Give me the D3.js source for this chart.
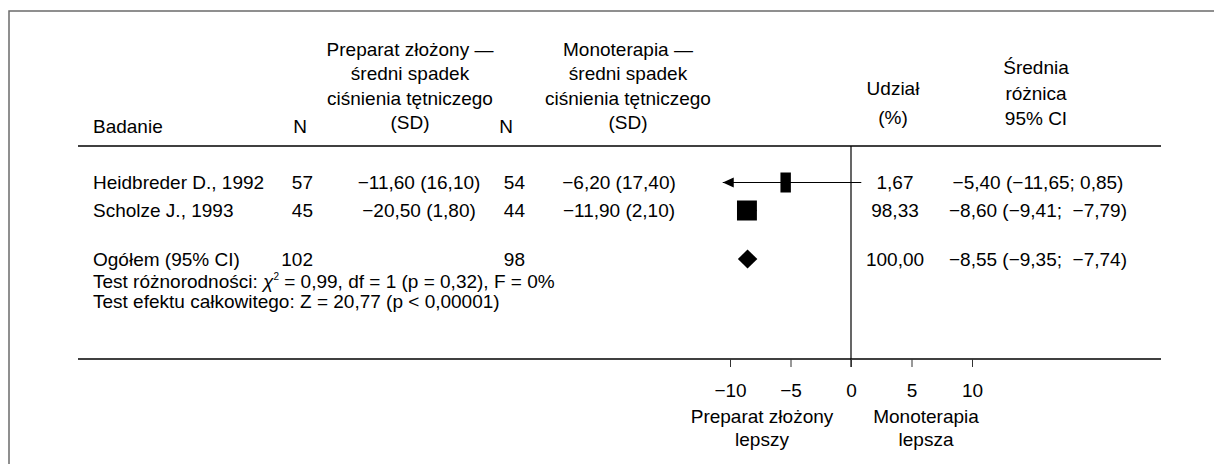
<!DOCTYPE html>
<html>
<head>
<meta charset="utf-8">
<script src="https://cdn.jsdelivr.net/npm/d3@7"></script>
<style>
  body { margin: 0; background: #fff; }
  svg text {
    font-family: "Liberation Sans", Arial, sans-serif;
    font-size: 19px;
    fill: #000;
    white-space: pre;
  }
</style>
</head>
<body>
<div id="chart"></div>
<script>

// data
const studies = ["Heidbreder D., 1992", "Scholze J., 1993"]
const comboN = [57, 45]
const comboMean = [-11.60, -20.50]
const comboSD = [16.10, 1.80]
const monoN = [54, 44]
const monoMean = [-6.20, -11.90]
const monoSD = [17.40, 2.10]
const weights = [1.67, 98.33]
const meanDiff = [-5.40, -8.60]
const ciLow = [-11.65, -9.41]
const ciHigh = [0.85, -7.79]

const totalLabel = "Ogółem (95% CI)"
const totalN = [102, 98]
const totalWeight = 100
const totalDiff = -8.55
const totalLow = -9.35
const totalHigh = -7.74

const xTicks = [-10, -5, 0, 5, 10]
const xLimit = -10.6   // left edge of the plot, CI past it gets an arrow

const headCombo = ["Preparat złożony —", "średni spadek", "ciśnienia tętniczego", "(SD)"]
const headMono = ["Monoterapia —", "średni spadek", "ciśnienia tętniczego", "(SD)"]
const headWeight = ["Udział", "(%)"]
const headDiff = ["Średnia", "różnica", "95% CI"]
const leftLabel = ["Preparat złożony", "lepszy"]
const rightLabel = ["Monoterapia", "lepsza"]

const width = 1214
const height = 464

// column positions
const colStudy = 93
const colN1 = 313
const colCombo = 419
const colN2 = 525
const colMono = 619
const colWeight = 895
const colDiff = 1038

const ruleLeft = 78
const ruleRight = 1161
const headRule = 146
const bottomRule = 359

const locale = d3.formatLocale({decimal: ",", thousands: " ", grouping: [3], currency: ["", " zł"], minus: "\u2212"})
const f2 = locale.format(".2f")

const x = d3.scaleLinear().domain([-10, 10]).range([730, 972])
const rowY = d3.scalePoint().domain(studies).range([189, 217])
const boxW = d3.scaleSqrt().domain([0, 100]).range([9, 20])

const svg = d3.select("#chart").append("svg")
  .attr("width", width)
  .attr("height", height)

// frame
svg.append("path")
  .attr("d", `M${width},11H9V${height}`)
  .attr("fill", "none")
  .attr("stroke", "#6b6b6b")
  .attr("stroke-width", 1.5)

// headers
function stack(lines, cx, lastBase, pitch, anchor) {
  svg.append("g").selectAll("text")
    .data(lines)
    .join("text")
    .attr("x", cx)
    .attr("y", (d, i) => lastBase - (lines.length - 1 - i) * pitch)
    .attr("text-anchor", anchor || "middle")
    .text(d => d)
}
stack(["Badanie"], colStudy, 133, 25, "start")
stack(["N"], 300, 133, 25)
stack(["N"], 506, 133, 25)
stack(headCombo, 410, 129, 24.5)
stack(headMono, 628, 129, 24.5)
stack(headWeight, 893, 124, 29)
stack(headDiff, 1036, 125, 25.5)

// rules
svg.append("g").selectAll("line")
  .data([headRule, bottomRule])
  .join("line")
  .attr("x1", ruleLeft).attr("x2", ruleRight)
  .attr("y1", d => d).attr("y2", d => d)
  .attr("stroke", "#000")
  .attr("stroke-width", 1.5)

// zero line
svg.append("line")
  .attr("x1", x(0)).attr("x2", x(0))
  .attr("y1", headRule).attr("y2", bottomRule + 8)
  .attr("stroke", "#000")
  .attr("stroke-width", 1.2)

// study rows
const rows = svg.append("g").selectAll("g")
  .data(studies)
  .join("g")
  .attr("transform", d => `translate(0,${rowY(d)})`)

rows.append("text").attr("x", colStudy).text(d => d)
rows.append("text").attr("x", colN1).attr("text-anchor", "end").text((d, i) => comboN[i])
rows.append("text").attr("x", colCombo).attr("text-anchor", "middle")
  .text((d, i) => `${f2(comboMean[i])} (${f2(comboSD[i])})`)
rows.append("text").attr("x", colN2).attr("text-anchor", "end").text((d, i) => monoN[i])
rows.append("text").attr("x", colMono).attr("text-anchor", "middle")
  .text((d, i) => `${f2(monoMean[i])} (${f2(monoSD[i])})`)
rows.append("text").attr("x", colWeight).attr("text-anchor", "middle").text((d, i) => f2(weights[i]))
rows.append("text").attr("x", colDiff).attr("text-anchor", "middle")
  .text((d, i) => `${f2(meanDiff[i])} (${f2(ciLow[i])};${ciHigh[i] < 0 ? "  " : " "}${f2(ciHigh[i])})`)

// confidence intervals and boxes
const cy = -6.5
rows.append("line")
  .attr("x1", (d, i) => x(Math.max(ciLow[i], xLimit)))
  .attr("x2", (d, i) => x(ciHigh[i]))
  .attr("y1", cy).attr("y2", cy)
  .attr("stroke", "#000")
  .attr("stroke-width", 1.2)

rows.filter((d, i) => ciLow[i] < xLimit)
  .append("path")
  .attr("d", `M${x(xLimit)},${cy}l11,-5v10z`)
  .attr("fill", "#000")

rows.append("rect")
  .attr("x", (d, i) => x(meanDiff[i]) - boxW(weights[i]) / 2)
  .attr("y", cy - 10)
  .attr("width", (d, i) => boxW(weights[i]))
  .attr("height", 20)
  .attr("fill", "#000")

// total row
const totalBase = 266
svg.append("text").attr("x", colStudy).attr("y", totalBase).text(totalLabel)
svg.append("text").attr("x", colN1).attr("y", totalBase).attr("text-anchor", "end").text(totalN[0])
svg.append("text").attr("x", colN2).attr("y", totalBase).attr("text-anchor", "end").text(totalN[1])
svg.append("text").attr("x", colWeight).attr("y", totalBase).attr("text-anchor", "middle").text(f2(totalWeight))
svg.append("text").attr("x", colDiff).attr("y", totalBase).attr("text-anchor", "middle")
  .text(`${f2(totalDiff)} (${f2(totalLow)};  ${f2(totalHigh)})`)

const dy = totalBase - 7
svg.append("path")
  .attr("d", `M${x(totalLow)},${dy}L${x(totalDiff)},${dy - 9.5}L${x(totalHigh)},${dy}L${x(totalDiff)},${dy + 9.5}Z`)
  .attr("fill", "#000")

// test lines
const het = svg.append("text").attr("x", colStudy).attr("y", 288)
het.append("tspan").text("Test różnorodności: ")
het.append("tspan").attr("font-style", "italic").text("χ")
het.append("tspan").attr("dy", -8).style("font-size", "10px").text("2")
het.append("tspan").attr("dy", 8).text(" = 0,99, df = 1 (p = 0,32), F = 0%")

svg.append("text").attr("x", colStudy).attr("y", 308)
  .text("Test efektu całkowitego: Z = 20,77 (p < 0,00001)")

// axis
const axis = svg.append("g")
  .attr("transform", `translate(0,${bottomRule})`)
  .call(d3.axisBottom(x).tickValues(xTicks).tickSize(8).tickFormat(d => locale.format("d")(d)))
axis.select(".domain").remove()
axis.selectAll(".tick line").attr("stroke", "#333")
axis.selectAll(".tick text")
  .attr("y", 38).attr("dy", 0)
  .attr("font-family", null).attr("font-size", null)

stack(leftLabel, 762, 446, 23)
stack(rightLabel, 926, 446, 23)

</script>
</body>
</html>
